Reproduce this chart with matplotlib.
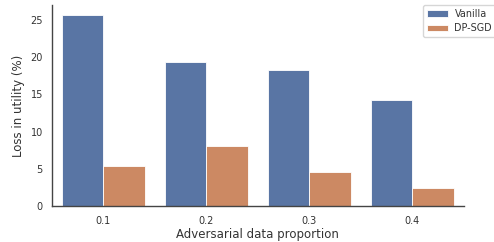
import pandas as pd
import numpy as np
import matplotlib
matplotlib.use('Agg')
import matplotlib.pyplot as plt
import seaborn as sns

sns.set_theme(style='white')

proportions = ['0.1', '0.2', '0.3', '0.4']
vanilla = [25.6, 19.3, 18.3, 14.3]
dp_sgd = [5.4, 8.1, 4.5, 2.4]

data = pd.DataFrame({
  'proportion': proportions * 2,
  'loss': vanilla + dp_sgd,
  'method': ['Vanilla'] * 4 + ['DP-SGD'] * 4,
})


def plot():
  fig = plt.figure(figsize=(4.94, 2.42), dpi=100)
  ax = fig.add_axes([0.105, 0.149, 0.834, 0.830])
  sns.barplot(data=data, x='proportion', y='loss', hue='method', ax=ax,
              edgecolor='white', linewidth=0.6)
  ax.set_ylim(0, 27)
  ax.set_xlim(-0.5, 3.5)
  ax.set_yticks([0, 5, 10, 15, 20, 25])
  ax.set_xlabel('Adversarial data proportion', fontsize=8.5, labelpad=2,
                color='#333333')
  ax.set_ylabel('Loss in utility (%)', fontsize=8.5, labelpad=4,
                color='#333333')
  ax.tick_params(axis='x', length=0, labelsize=7, pad=7, labelcolor='#333333')
  ax.tick_params(axis='y', length=0, labelsize=7, pad=6.5, labelcolor='#333333')
  sns.despine(ax=ax)
  for s in ['left', 'bottom']:
    ax.spines[s].set_color('#444444')
    ax.spines[s].set_linewidth(1.0)
  leg = ax.legend(loc='upper left', bbox_to_anchor=(0.856, 0.98),
                  bbox_transform=fig.transFigure, fontsize=6.9, frameon=True,
                  handlelength=2.2, handletextpad=0.7, borderaxespad=0)
  for t in leg.get_texts():
    t.set_color('#333333')


plot()
plt.savefig('out.png')
